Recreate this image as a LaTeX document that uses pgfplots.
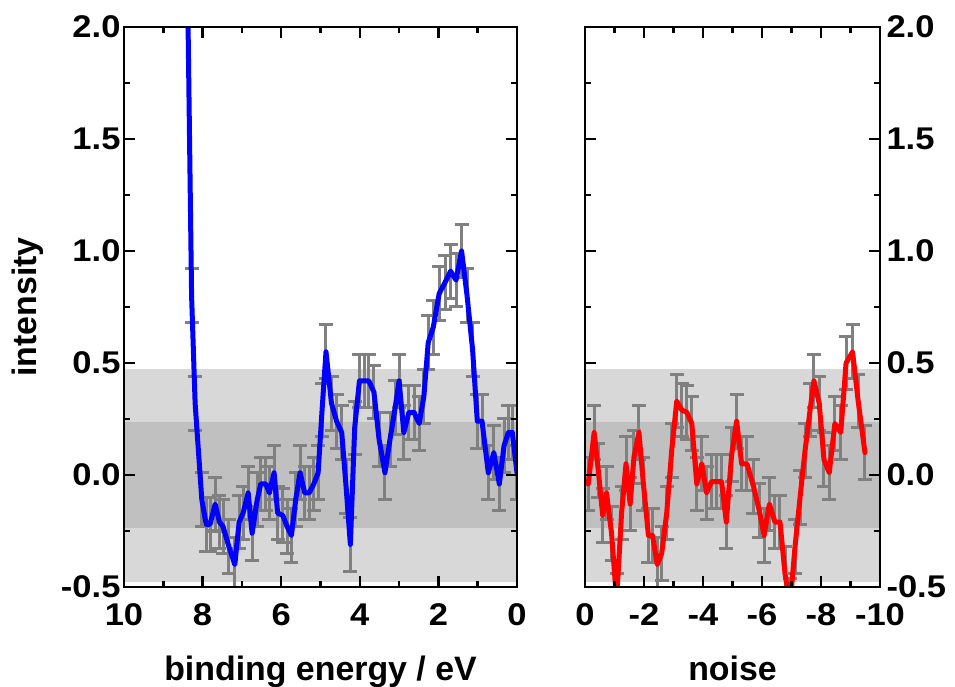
\documentclass[border=0pt]{standalone}
\usepackage{pgfplots}
\pgfplotsset{compat=1.18}
\usepackage{pgfplotstable}
\usepackage{fontspec}
\setmainfont{Liberation Sans}
\newfontfamily\tickfont{Liberation Sans}[FakeStretch=1.1]

\definecolor{bandlight}{RGB}{216,216,216}
\definecolor{banddark}{RGB}{192,192,192}
\definecolor{errgray}{RGB}{128,128,128}

% binding energy spectrum
\pgfplotstableread{
x y
8.41 2.55
8.28 0.80
8.19 0.32
8.02 -0.11
7.91 -0.22
7.81 -0.22
7.68 -0.13
7.57 -0.21
7.48 -0.23
7.33 -0.32
7.18 -0.40
7.07 -0.21
6.97 -0.17
6.84 -0.08
6.74 -0.26
6.61 -0.11
6.52 -0.04
6.39 -0.04
6.30 -0.08
6.18 0.01
6.09 -0.17
5.96 -0.18
5.85 -0.23
5.74 -0.27
5.63 -0.11
5.52 0.01
5.40 -0.08
5.29 -0.08
5.17 -0.04
5.06 0.01
4.96 0.29
4.86 0.55
4.72 0.32
4.59 0.24
4.46 0.19
4.35 -0.05
4.24 -0.31
4.13 0.21
4.01 0.42
3.89 0.42
3.77 0.42
3.64 0.37
3.51 0.16
3.36 0.01
3.23 0.16
3.10 0.30
3.00 0.42
2.88 0.19
2.75 0.28
2.62 0.28
2.49 0.23
2.37 0.35
2.26 0.59
2.13 0.66
1.98 0.81
1.83 0.86
1.69 0.91
1.55 0.87
1.41 1.00
1.27 0.80
1.13 0.56
1.01 0.24
0.89 0.24
0.73 0.01
0.59 0.10
0.45 -0.04
0.33 0.13
0.22 0.19
0.12 0.19
0.00 0.01
}\bluedata

% noise
\pgfplotstableread{
x y
-0.11 -0.04
-0.31 0.19
-0.45 0.02
-0.60 -0.18
-0.73 -0.08
-0.90 -0.26
-1.07 -0.56
-1.24 -0.17
-1.39 0.05
-1.53 -0.13
-1.66 0.08
-1.83 0.19
-1.98 -0.04
-2.15 -0.27
-2.29 -0.27
-2.45 -0.40
-2.60 -0.35
-2.77 -0.17
-2.94 0.11
-3.11 0.33
-3.28 0.29
-3.45 0.28
-3.62 0.23
-3.79 -0.04
-3.96 0.05
-4.12 -0.08
-4.29 -0.03
-4.46 -0.03
-4.63 -0.03
-4.79 -0.21
-4.97 0.09
-5.14 0.24
-5.31 0.05
-5.49 0.05
-5.71 -0.05
-5.91 -0.16
-6.07 -0.27
-6.25 -0.13
-6.44 -0.21
-6.61 -0.21
-6.78 -0.44
-6.95 -0.58
-7.12 -0.32
-7.29 -0.10
-7.46 0.11
-7.63 0.29
-7.76 0.42
-7.94 0.32
-8.10 0.07
-8.28 0.01
-8.47 0.23
-8.67 0.19
-8.85 0.50
-9.07 0.55
-9.26 0.33
-9.49 0.10
}\reddata

\pgfplotsset{
  % background layer: grey bands and error bars, same geometry as the panel
  bgpanel/.style={
    scale only axis, height=560bp,
    ymin=-0.5, ymax=2.0,
    x dir=reverse, hide axis,
  },
  panel/.style={
    scale only axis, height=560bp,
    ymin=-0.5, ymax=2.0,
    x dir=reverse, axis on top,
    axis line style={line width=2.5bp},
    tick style={black, line width=2.5bp},
    major tick length=11bp, minor tick length=6bp,
    tick align=inside,
    ytick={-0.5,0,0.5,1,1.5,2},
    minor y tick num=1, minor x tick num=1,
    yticklabel style={/pgf/number format/fixed,
      /pgf/number format/precision=1,
      /pgf/number format/fixed zerofill},
    xticklabel style={yshift=-13bp},
    tick label style={font=\tickfont\fontsize{31.5}{36}\selectfont\bfseries},
    label style={font=\fontsize{34}{40}\selectfont\bfseries},
    /pgf/number format/assume math mode=true,
    xlabel style={at={(axis description cs:0.5,-0.1661)}, anchor=base},
  },
  errs/.style={draw=none, mark=none, forget plot,
    error bars/.cd, y dir=both, y fixed=0.12,
    error bar style={draw=errgray, line width=3bp},
    error mark options={rotate=90, draw=errgray, line width=3bp, mark size=7bp}},
  curve/.style={line width=5bp, line join=round, line cap=round, no marks},
}

\begin{document}
\begin{tikzpicture}
\path[use as bounding box] (-124bp,-100bp) rectangle (831bp,587bp);

% ---- left panel ----
\begin{axis}[bgpanel, width=393bp, xmin=0, xmax=10]
\addplot[fill=bandlight, draw=none] coordinates {(0,-0.476) (10,-0.476) (10,0.475) (0,0.475)};
\addplot[fill=banddark, draw=none] coordinates {(0,-0.238) (10,-0.238) (10,0.238) (0,0.238)};
\addplot[errs] table[x=x, y=y] {\bluedata};
\end{axis}

\begin{axis}[panel,
  width=393bp,
  xmin=0, xmax=10,
  xtick={0,2,4,6,8,10},
  xlabel={binding energy / eV},
  ylabel={intensity},
  ylabel style={at={(axis description cs:-0.2214,0.5)}, anchor=base},
]
\addplot[curve, color=blue] table[x=x, y=y] {\bluedata};
\end{axis}

% ---- right panel ----
\begin{axis}[bgpanel, at={(461bp,0bp)}, anchor=south west,
  width=295bp, xmin=-10, xmax=0]
\addplot[fill=bandlight, draw=none] coordinates {(0,-0.476) (-10,-0.476) (-10,0.475) (0,0.475)};
\addplot[fill=banddark, draw=none] coordinates {(0,-0.238) (-10,-0.238) (-10,0.238) (0,0.238)};
\addplot[errs] table[x=x, y=y] {\reddata};
\end{axis}

\begin{axis}[panel,
  at={(461bp,0bp)}, anchor=south west,
  width=295bp,
  xmin=-10, xmax=0,
  xtick={-10,-8,-6,-4,-2,0},
  yticklabel pos=right,
  yticklabel style={xshift=3bp},
  xlabel={noise},
]
\addplot[curve, color=red] table[x=x, y=y] {\reddata};
\end{axis}
\end{tikzpicture}
\end{document}
